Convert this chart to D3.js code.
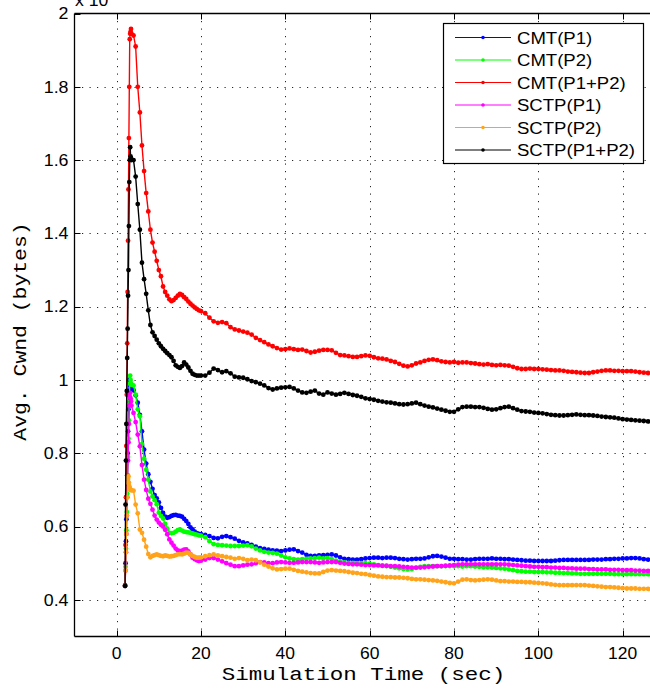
<!DOCTYPE html>
<html><head><meta charset="utf-8">
<script src="https://cdn.jsdelivr.net/npm/d3@7"></script>
<style>html,body{margin:0;padding:0;background:#fff;overflow:hidden}</style>
</head><body>
<div id="chart"></div>
<script>
// ---- data (values in units of 10^4 bytes) ----
const time = [
2.0,2.1,2.2,2.3,2.4,2.5,2.6,2.7,2.8,2.9,3.0,3.1,3.2,3.3,3.4,3.5,
4,4.5,5,5.5,6,6.5,7,7.5,8,8.5,9,9.5,10,10.5,11,11.5,12,12.5,13,13.5,14,14.5,15,15.5,16,16.5,17,17.5,18,18.5,19,19.5,20,
21,22,23,24,25,26,27,28,29,30,31,32,33,34,35,36,37,38,39,40,
41,42,43,44,45,46,47,48,49,50,51,52,53,54,55,56,57,58,59,60,
61,62,63,64,65,66,67,68,69,70,71,72,73,74,75,76,77,78,79,80,
81,82,83,84,85,86,87,88,89,90,91,92,93,94,95,96,97,98,99,100,
101,102,103,104,105,106,107,108,109,110,111,112,113,114,115,116,117,118,119,120,
121,122,123,124,125,126];

const cmtP1 = [
0.438,0.50,0.56,0.62,0.68,0.74,0.80,0.86,0.92,0.97,1.001,0.995,0.99,0.985,0.983,0.978,
0.972,0.958,0.938,0.905,0.86,0.81,0.772,0.743,0.722,0.703,0.686,0.677,0.666,0.651,0.637,0.627,0.624,0.626,0.629,0.631,0.632,0.630,0.629,0.627,0.621,0.615,0.607,0.598,0.592,0.586,0.582,0.580,0.579,
0.577,0.574,0.569,0.568,0.572,0.574,0.571,0.567,0.561,0.557,
0.554,0.550,0.545,0.541,0.539,0.537,0.535,0.534,0.533,0.535,
0.537,0.538,0.533,0.529,0.523,0.520,0.520,0.521,0.522,0.523,
0.524,0.521,0.516,0.512,0.511,0.510,0.510,0.511,0.513,0.514,
0.515,0.515,0.514,0.515,0.515,0.514,0.512,0.511,0.510,0.511,
0.512,0.512,0.513,0.516,0.519,0.520,0.518,0.515,0.512,0.512,
0.511,0.511,0.510,0.510,0.511,0.512,0.512,0.512,0.513,0.512,
0.512,0.511,0.511,0.510,0.509,0.508,0.507,0.507,0.506,0.506,
0.506,0.506,0.506,0.507,0.508,0.509,0.509,0.509,0.509,0.509,
0.509,0.509,0.510,0.510,0.510,0.511,0.511,0.512,0.512,0.513,
0.513,0.514,0.514,0.513,0.511,0.510];

const cmtP2 = [
0.438,0.49,0.54,0.59,0.64,0.69,0.74,0.79,0.84,0.89,0.94,0.99,1.012,1.00,0.99,0.987,
0.985,0.96,0.92,0.901,0.825,0.785,0.755,0.728,0.696,0.682,0.672,0.661,0.638,0.629,0.622,0.607,0.594,0.583,0.582,0.583,0.586,0.590,0.592,0.589,0.586,0.585,0.584,0.583,0.581,0.579,0.578,0.576,0.575,
0.571,0.560,0.552,0.550,0.549,0.548,0.547,0.547,0.547,0.548,
0.549,0.546,0.540,0.535,0.531,0.529,0.528,0.526,0.521,0.516,
0.513,0.511,0.510,0.511,0.512,0.513,0.514,0.515,0.513,0.514,
0.511,0.507,0.504,0.502,0.501,0.501,0.500,0.500,0.500,0.499,
0.497,0.495,0.493,0.492,0.490,0.488,0.486,0.484,0.483,0.484,
0.487,0.490,0.492,0.492,0.492,0.492,0.492,0.492,0.492,0.492,
0.492,0.491,0.492,0.492,0.491,0.490,0.489,0.489,0.488,0.487,
0.486,0.485,0.483,0.481,0.479,0.478,0.477,0.477,0.476,0.476,
0.476,0.475,0.475,0.474,0.474,0.473,0.473,0.472,0.472,0.471,
0.471,0.471,0.471,0.471,0.471,0.471,0.471,0.470,0.470,0.470,
0.470,0.470,0.470,0.470,0.470,0.470];

const cmtP1P2 = [
0.44,0.55,0.68,0.82,0.96,1.10,1.24,1.38,1.52,1.66,1.80,1.93,1.945,1.95,1.958,1.945,
1.94,1.91,1.80,1.73,1.64,1.57,1.51,1.46,1.41,1.375,1.35,1.325,1.30,1.283,1.255,1.24,1.23,1.22,1.215,1.218,1.224,1.23,1.235,1.232,1.226,1.221,1.214,1.208,1.203,1.198,1.194,1.19,1.188,
1.182,1.17,1.16,1.156,1.158,1.155,1.144,1.138,1.135,1.132,
1.129,1.124,1.115,1.109,1.103,1.097,1.092,1.087,1.083,1.084,
1.086,1.084,1.082,1.083,1.079,1.075,1.077,1.080,1.082,1.082,
1.081,1.074,1.068,1.067,1.065,1.063,1.063,1.065,1.067,1.066,
1.062,1.059,1.058,1.056,1.052,1.049,1.044,1.039,1.037,1.040,
1.045,1.048,1.052,1.055,1.056,1.054,1.051,1.049,1.048,1.049,
1.047,1.048,1.048,1.046,1.045,1.043,1.042,1.043,1.041,1.040,
1.041,1.040,1.039,1.036,1.032,1.030,1.030,1.031,1.030,1.030,
1.029,1.028,1.027,1.026,1.026,1.025,1.023,1.022,1.021,1.020,
1.019,1.019,1.021,1.023,1.025,1.026,1.026,1.025,1.025,1.024,
1.024,1.024,1.023,1.021,1.020,1.019];

const sctpP1 = [
0.438,0.48,0.53,0.58,0.63,0.68,0.73,0.78,0.83,0.88,0.93,0.955,0.965,0.95,0.942,0.93,
0.91,0.885,0.851,0.819,0.768,0.728,0.70,0.676,0.662,0.646,0.630,0.619,0.611,0.605,0.600,0.591,0.579,0.565,0.556,0.548,0.540,0.535,0.533,0.534,0.537,0.538,0.532,0.524,0.515,0.511,0.508,0.506,0.507,
0.510,0.514,0.514,0.510,0.505,0.500,0.496,0.492,0.492,0.494,
0.496,0.497,0.500,0.503,0.502,0.500,0.500,0.502,0.503,0.502,
0.501,0.501,0.502,0.503,0.503,0.503,0.502,0.501,0.502,0.503,
0.503,0.503,0.501,0.499,0.498,0.497,0.497,0.496,0.495,0.495,
0.494,0.494,0.493,0.493,0.492,0.492,0.491,0.490,0.489,0.488,
0.488,0.488,0.489,0.490,0.491,0.492,0.492,0.493,0.494,0.495,
0.496,0.497,0.497,0.497,0.497,0.497,0.497,0.497,0.497,0.497,
0.497,0.497,0.496,0.495,0.494,0.493,0.492,0.491,0.490,0.490,
0.489,0.489,0.488,0.488,0.487,0.487,0.486,0.486,0.485,0.485,
0.485,0.484,0.484,0.483,0.483,0.483,0.482,0.482,0.482,0.481,
0.481,0.481,0.480,0.480,0.479,0.479];

const sctpP2 = [
0.438,0.48,0.53,0.58,0.63,0.68,0.72,0.73,0.737,0.72,0.71,0.705,0.701,0.70,0.70,0.699,
0.698,0.66,0.636,0.592,0.583,0.564,0.545,0.525,0.516,0.520,0.522,0.524,0.522,0.520,0.519,0.521,0.520,0.518,0.519,0.520,0.522,0.524,0.525,0.524,0.526,0.529,0.528,0.524,0.520,0.517,0.515,0.515,0.516,
0.519,0.522,0.524,0.521,0.519,0.517,0.515,0.512,0.514,0.512,
0.508,0.510,0.508,0.502,0.496,0.491,0.486,0.483,0.484,0.485,
0.485,0.482,0.479,0.477,0.475,0.473,0.472,0.472,0.476,0.480,
0.481,0.480,0.479,0.478,0.476,0.474,0.473,0.471,0.470,0.468,
0.466,0.464,0.463,0.462,0.462,0.461,0.461,0.460,0.459,0.457,
0.456,0.456,0.455,0.454,0.453,0.452,0.450,0.448,0.446,0.445,
0.450,0.455,0.456,0.454,0.453,0.454,0.455,0.456,0.455,0.453,
0.451,0.451,0.450,0.450,0.449,0.449,0.448,0.448,0.447,0.446,
0.445,0.444,0.442,0.441,0.440,0.440,0.440,0.440,0.440,0.440,
0.440,0.439,0.438,0.437,0.436,0.435,0.435,0.434,0.433,0.432,
0.431,0.431,0.431,0.430,0.430,0.430];

const sctpP1P2 = [
0.438,0.66,0.78,0.88,0.97,1.06,1.14,1.23,1.30,1.42,1.54,1.60,1.635,1.61,1.605,1.60,
1.60,1.555,1.48,1.41,1.32,1.275,1.235,1.19,1.15,1.13,1.12,1.11,1.10,1.092,1.085,1.079,1.073,1.068,1.062,1.052,1.04,1.036,1.033,1.038,1.048,1.042,1.034,1.025,1.017,1.014,1.012,1.012,1.012,
1.012,1.02,1.031,1.027,1.021,1.024,1.018,1.009,1.007,1.006,
1.002,0.997,0.994,0.99,0.985,0.978,0.974,0.977,0.979,0.980,
0.981,0.977,0.971,0.966,0.965,0.968,0.971,0.963,0.960,0.966,
0.963,0.960,0.962,0.965,0.962,0.959,0.957,0.954,0.950,0.948,
0.946,0.943,0.941,0.939,0.938,0.936,0.934,0.933,0.934,0.936,
0.938,0.934,0.930,0.927,0.925,0.922,0.919,0.916,0.913,0.913,
0.920,0.926,0.927,0.927,0.926,0.926,0.924,0.921,0.919,0.920,
0.923,0.926,0.927,0.923,0.919,0.915,0.914,0.913,0.911,0.910,
0.909,0.907,0.905,0.904,0.903,0.903,0.904,0.905,0.906,0.905,
0.904,0.904,0.903,0.902,0.900,0.899,0.898,0.897,0.895,0.893,
0.892,0.891,0.890,0.889,0.888,0.887];

const seriesNames = ["CMT(P1)","CMT(P2)","CMT(P1+P2)","SCTP(P1)","SCTP(P2)","SCTP(P1+P2)"];
const seriesColors = ["#0000ff","#00ff00","#ff0000","#ff00ff","#ffa31a","#000000"];
const xTicks = [0,20,40,60,80,100,120];
const yTicks = [0.4,0.6,0.8,1,1.2,1.4,1.6,1.8,2];
const xLabel = "Simulation Time (sec)";
const yLabel = "Avg. Cwnd (bytes)";

const seriesValues = [cmtP1, cmtP2, cmtP1P2, sctpP1, sctpP2, sctpP1P2];

(function draw(){
const series = seriesNames.map((n,i)=>({name:n,color:seriesColors[i],
  pts: time.map((t,j)=>[t, seriesValues[i][j]])}));

const W=650,H=690;
const svg=d3.select("#chart").append("svg").attr("width",W).attr("height",H)
  .style("background","#fff").style("display","block");

const x=d3.scaleLinear().domain([-10,127]).range([74.5,652.2]);
const y=d3.scaleLinear().domain([0.3,2]).range([636.5,13.5]);
const pLeft=x(-10), pRight=x(127), pTop=y(2), pBottom=y(0.3);

const sansFont="'Liberation Sans', Arial, Helvetica, sans-serif";
const monoFont="'Liberation Mono','Courier New','DejaVu Sans Mono',monospace";

// grid
const grid=svg.append("g").attr("stroke","#000").attr("stroke-width",1)
  .attr("stroke-dasharray","1.2,6.3").attr("opacity",0.85);
grid.selectAll("line.v").data(xTicks).join("line").attr("class","v")
  .attr("x1",d=>Math.round(x(d))+0.5).attr("x2",d=>Math.round(x(d))+0.5)
  .attr("y1",pTop).attr("y2",pBottom);
grid.selectAll("line.h").data(yTicks.filter(d=>d<2)).join("line").attr("class","h")
  .attr("x1",pLeft).attr("x2",pRight)
  .attr("y1",d=>Math.round(y(d))+0.5).attr("y2",d=>Math.round(y(d))+0.5);

// data
svg.append("clipPath").attr("id","clip").append("rect")
  .attr("x",pLeft).attr("y",pTop).attr("width",pRight-pLeft).attr("height",pBottom-pTop);
const plot=svg.append("g").attr("clip-path","url(#clip)");
const line=d3.line().x(d=>x(d[0])).y(d=>y(d[1]));
series.forEach(s=>{
  const g=plot.append("g");
  g.append("path").attr("d",line(s.pts)).attr("fill","none")
    .attr("stroke",s.color).attr("stroke-width",1.4);
  g.selectAll("circle").data(s.pts).join("circle")
    .attr("cx",d=>x(d[0])).attr("cy",d=>y(d[1])).attr("r",2.4)
    .attr("fill",s.color);
});

// axes (MATLAB style, inward ticks)
const ax=svg.append("g").attr("stroke","#000").attr("stroke-width",1.3).attr("fill","none");
ax.append("line").attr("x1",pLeft).attr("x2",pRight).attr("y1",pTop).attr("y2",pTop);
ax.append("line").attr("x1",pLeft).attr("x2",pRight).attr("y1",pBottom).attr("y2",pBottom);
ax.append("line").attr("x1",pLeft).attr("x2",pLeft).attr("y1",pTop).attr("y2",pBottom);
xTicks.forEach(t=>{
  const px=Math.round(x(t))+0.5;
  ax.append("line").attr("x1",px).attr("x2",px).attr("y1",pBottom).attr("y2",pBottom-6).attr("stroke-width",1);
  ax.append("line").attr("x1",px).attr("x2",px).attr("y1",pTop).attr("y2",pTop+6).attr("stroke-width",1);
});
yTicks.forEach(t=>{
  const py=Math.round(y(t))+0.5;
  ax.append("line").attr("x1",pLeft).attr("x2",pLeft+6).attr("y1",py).attr("y2",py).attr("stroke-width",1);
});

// tick labels
const xAxisLabels=svg.append("g").attr("font-family",sansFont).attr("font-size",16.5).attr("fill","#000");
xAxisLabels.selectAll("text").data(xTicks).join("text")
  .attr("text-anchor","middle")
  .attr("transform",d=>`translate(${x(d)},659) scale(1.06,1)`)
  .text(d=>d3.format("d")(d));
const yAxisLabels=svg.append("g").attr("font-family",sansFont).attr("font-size",16.5).attr("fill","#000");
yAxisLabels.selectAll("text").data(yTicks).join("text")
  .attr("text-anchor","end")
  .attr("transform",d=>`translate(68.5,${y(d)+5.8}) scale(1.08,1)`)
  .text(d=>String(d));

// exponent label (cut off at the top edge, as in the original figure)
const ex=svg.append("text").attr("font-family",sansFont).attr("font-size",16)
  .attr("transform","translate(75,5.5) scale(1.1,1)");
ex.append("tspan").text("x 10");
ex.append("tspan").attr("dy",-8).attr("font-size",11).text("4");

// axis titles
svg.append("text").attr("font-family",monoFont).attr("font-size",18)
  .attr("text-anchor","middle")
  .attr("transform","translate(363.5,680) scale(1.25,1)")
  .text(xLabel);
svg.append("text").attr("font-family",monoFont).attr("font-size",18)
  .attr("text-anchor","middle")
  .attr("transform","translate(25.5,331.5) rotate(-90) scale(1.19,1)")
  .text(yLabel);

// legend
const lg=svg.append("g");
lg.append("rect").attr("x",443.5).attr("y",23.5).attr("width",200).attr("height",140)
  .attr("fill","#fff").attr("stroke","#000").attr("stroke-width",1.2);
const rowY=[37.5,60,82.5,105,127.5,150];
series.forEach((s,i)=>{
  const yy=rowY[i];
  lg.append("line").attr("x1",455).attr("x2",511).attr("y1",yy).attr("y2",yy)
    .attr("stroke",s.color).attr("stroke-width",1.1);
  lg.append("circle").attr("cx",483).attr("cy",yy).attr("r",1.8).attr("fill",s.color);
  lg.append("text").attr("font-family",sansFont).attr("font-size",16)
    .attr("transform",`translate(517,${yy+6}) scale(1.16,1)`).text(s.name);
});
})();
</script>
</body></html>
